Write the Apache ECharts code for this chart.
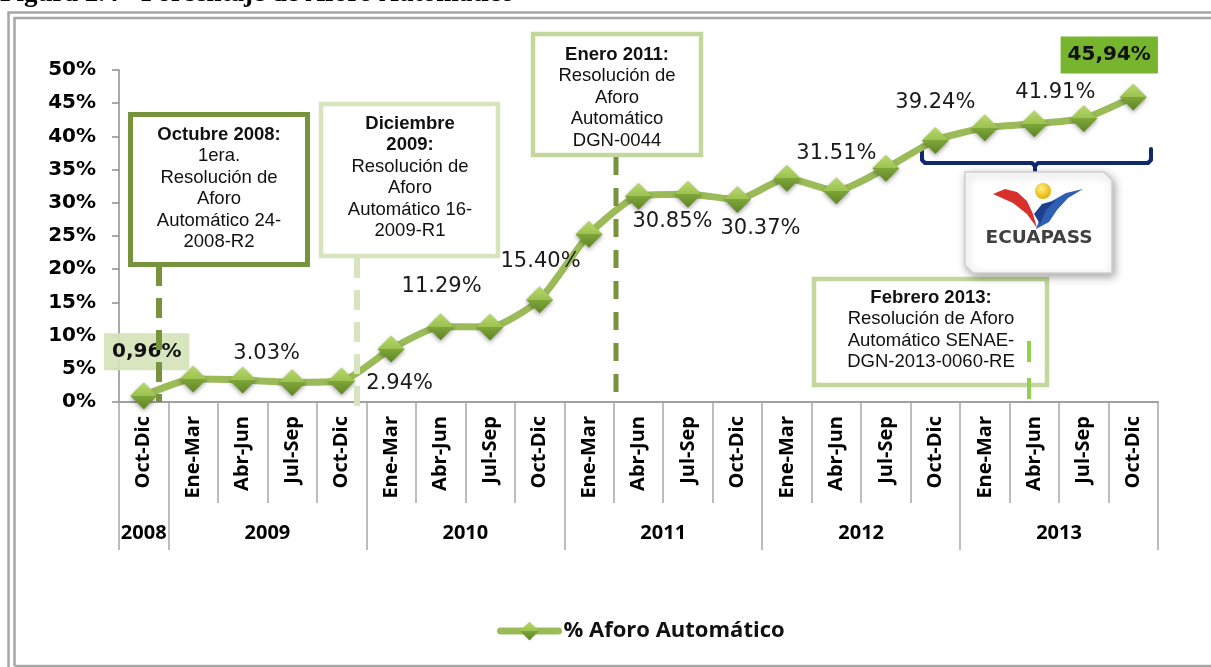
<!DOCTYPE html>
<html lang="es">
<head>
	<meta charset="UTF-8">
	<title>Porcentaje de Aforo Automático</title>
	<style>
		html, body { margin: 0; padding: 0; background: #fff; }
		#main { width: 1211px; height: 667px; }
	</style>
</head>
<body>
	<div id="main"></div>

	<script src="https://cdn.jsdelivr.net/npm/echarts@6/dist/echarts.min.js"></script>
	<script>
		// datos
		var periodos = ['Oct-Dic',
			'Ene-Mar', 'Abr-Jun', 'Jul-Sep', 'Oct-Dic',
			'Ene-Mar', 'Abr-Jun', 'Jul-Sep', 'Oct-Dic',
			'Ene-Mar', 'Abr-Jun', 'Jul-Sep', 'Oct-Dic',
			'Ene-Mar', 'Abr-Jun', 'Jul-Sep', 'Oct-Dic',
			'Ene-Mar', 'Abr-Jun', 'Jul-Sep', 'Oct-Dic'];
		var anios = ['2008', '2009', '2010', '2011', '2012', '2013'];
		var trimestresPorAnio = [1, 4, 4, 4, 4, 4];
		var aforo = [0.96,
			3.45, 3.30, 2.95, 3.15,
			8.0, 11.35, 11.29, 15.40,
			25.25, 31.0, 31.3, 30.5,
			33.7, 31.8, 35.2, 39.4,
			41.3, 41.9, 42.7, 45.94];
		var etiquetas = ['0,96%', '', '3.03%', '', '2.94%', '', '11.29%', '', '15.40%', '',
			'30.85%', '', '30.37%', '', '31.51%', '', '39.24%', '', '41.91%', '', '45,94%'];
		var yTicks = [0, 50, 5];

		// desplazamiento de cada etiqueta respecto a su punto (estilo)
		var offsetEtiq = {
			0: [3, -44], 2: [24, -27], 4: [58, 2], 6: [1, -40], 8: [1, -38],
			10: [34, 25], 12: [23, 29], 14: [0, -37], 16: [0, -38], 18: [21, -31], 20: [-24, -42]
		};

		// eje de años: 2 ranuras por trimestre para centrar el año en su grupo
		var ranuras = [];
		for (var i = 0; i <= periodos.length * 2; i++) ranuras.push('');
		var bordes = {};
		var ini = 0;
		for (var a = 0; a < anios.length; a++) {
			var fin = ini + trimestresPorAnio[a];
			bordes[ini * 2] = true;
			bordes[fin * 2] = true;
			ranuras[ini + fin] = anios[a];
			ini = fin;
		}

		var datos = [];
		for (var i = 0; i < aforo.length; i++) {
			var lab = { show: false };
			if (etiquetas[i] !== '') {
				lab = {
					show: true,
					position: 'inside',
					offset: offsetEtiq[i],
					formatter: etiquetas[i],
					fontFamily: 'DejaVu Sans',
					fontSize: 21,
					color: '#1a1a1a'
				};
				if (i === 0) {
					lab.fontWeight = 'bold';
					lab.fontSize = 20;
					lab.backgroundColor = 'rgba(213,227,184,0.92)';
					lab.padding = [9, 8, 8, 8];
					lab.color = '#111';
				}
				if (i === aforo.length - 1) {
					lab.fontWeight = 'bold';
					lab.fontSize = 20;
					lab.backgroundColor = '#77b52f';
					lab.padding = [9, 7, 8, 7];
					lab.color = '#111';
				}
			}
			datos.push({ value: aforo[i], label: lab });
		}

		var verde = '#77933c';
		var verdeClaro = '#c3d69b';
		var verdeMuyClaro = '#d7e4bd';

		function caja(x, y, w, h, color, lw) {
			return {
				type: 'rect', z: 5,
				shape: { x: x, y: y, width: w, height: h },
				style: { fill: '#fff', stroke: color, lineWidth: lw }
			};
		}
		function texto(cx, top, txt) {
			return {
				type: 'text', z: 6, x: cx, y: top,
				style: {
					text: txt, align: 'center', verticalAlign: 'top',
					fontFamily: 'Liberation Sans', fontSize: 18.5, lineHeight: 21.5, fill: '#111',
					rich: { b: { fontWeight: 'bold', fontFamily: 'Liberation Sans', fontSize: 18.5, lineHeight: 21.5 } }
				}
			};
		}
		function guion(x, y1, y2, color, lw, dash) {
			return {
				type: 'line', z: 100,
				shape: { x1: x, y1: y1, x2: x, y2: y2 },
				style: { stroke: color, lineWidth: lw, lineDash: dash }
			};
		}

		var graficos = [
			// titulo cortado arriba
			{ type: 'text', x: 0, y: 8, style: { text: 'Figura 2.4 - Porcentaje de Aforo Automático', fontFamily: 'Liberation Serif', fontWeight: 'bold', fontSize: 27, verticalAlign: 'bottom', fill: '#000' } },
			// marco doble
			{ type: 'polyline', shape: { points: [[8.5, 670], [8.5, 12.5], [1215, 12.5]] }, style: { stroke: '#a6a6a6', lineWidth: 2.5, fill: null } },
			{ type: 'polyline', shape: { points: [[14.5, 666], [14.5, 18], [1215, 18]] }, style: { stroke: '#a6a6a6', lineWidth: 2.5, fill: null } },
			{ type: 'line', shape: { x1: 14.5, y1: 666, x2: 1215, y2: 666 }, style: { stroke: '#a6a6a6', lineWidth: 2.5 } },

			caja(130.5, 114.5, 177, 150, verde, 5),
			texto(219, 124, '{b|Octubre 2008:}\n1era.\nResolución de\nAforo\nAutomático 24-\n2008-R2'),
			caja(321, 104, 177, 152, verdeMuyClaro, 4.5),
			texto(410, 113, '{b|Diciembre}\n{b|2009:}\nResolución de\nAforo\nAutomático 16-\n2009-R1'),
			caja(533, 34, 168, 121, verdeClaro, 4.5),
			texto(617, 44, '{b|Enero 2011:}\nResolución de\nAforo\nAutomático\nDGN-0044'),
			caja(814, 279, 233, 106, verdeClaro, 4.5),
			texto(931, 287, '{b|Febrero 2013:}\nResolución de Aforo\nAutomático SENAE-\nDGN-2013-0060-RE'),

			guion(159, 266, 402, verde, 6, [20, 12]),
			guion(357, 258, 408, verdeMuyClaro, 6, [20, 12]),
			guion(616, 157, 402, verde, 5, [18, 13]),
			guion(1029, 341, 401, '#92d050', 4, [21, 16]),

			// llave azul
			{
				type: 'polyline', z: 8,
				shape: { points: [[922, 149], [922, 160], [925, 163], [1032, 163], [1035, 166], [1035, 177]] },
				style: { stroke: '#10296b', lineWidth: 4, fill: null, lineCap: 'round', lineJoin: 'round' }
			},
			{
				type: 'polyline', z: 8,
				shape: { points: [[1035, 166], [1038, 163], [1148, 163], [1151, 160], [1151, 149]] },
				style: { stroke: '#10296b', lineWidth: 4, fill: null, lineCap: 'round', lineJoin: 'round' }
			},
			// logo ECUAPASS
			{
				type: 'polygon', z: 8,
				shape: { points: [[965, 172], [1104, 172], [1112, 180], [1112, 273], [973, 273], [965, 265]] },
				style: { fill: '#fff', stroke: '#cfcfcf', lineWidth: 1.5, shadowBlur: 8, shadowColor: 'rgba(0,0,0,0.35)', shadowOffsetX: 2, shadowOffsetY: 3 }
			},
			{
				type: 'polygon', z: 9,
				shape: { points: [[993, 194], [1005, 189], [1017, 192], [1027, 201], [1033, 214], [1037, 228], [1027, 214], [1013, 203]] },
				style: { fill: '#d8312b' }
			},
			{
				type: 'polygon', z: 9,
				shape: { points: [[1036, 229], [1042, 213], [1052, 201], [1066, 193], [1083, 189], [1068, 198], [1057, 210], [1049, 222]] },
				style: { fill: '#2f5fb3' }
			},
			{
				type: 'polygon', z: 9,
				shape: { points: [[1034, 214], [1042, 204], [1056, 200], [1046, 210], [1040, 224]] },
				style: { fill: '#1f3f8f' }
			},
			{
				type: 'circle', z: 10,
				shape: { cx: 1043, cy: 191, r: 8 },
				style: { fill: { type: 'radial', x: 0.4, y: 0.35, r: 0.7, colorStops: [{ offset: 0, color: '#fff27a' }, { offset: 1, color: '#e6a800' }] } }
			},
			{
				type: 'text', z: 10, x: 1039, y: 238,
				style: { text: 'ECUAPASS', align: 'center', verticalAlign: 'middle', fontFamily: 'DejaVu Sans', fontWeight: 'bold', fontSize: 18.5, fill: '#404040' }
			}
		];

		var myChart = echarts.init(document.getElementById('main'));
		var option = {
			animation: false,
			backgroundColor: '#fff',
			grid: { left: 119, right: 53, top: 70, bottom: 265, containLabel: false },
			legend: {
				left: 492, top: 615,
				itemWidth: 58, itemHeight: 24,
				lineStyle: { width: 7, color: '#9bbb59', cap: 'round' },
				textStyle: { fontFamily: 'Open Sans', fontWeight: 'bold', fontSize: 22, color: '#111' },
				data: ['% Aforo Automático']
			},
			xAxis: [{
				type: 'category',
				data: periodos,
				boundaryGap: true,
				axisLine: { lineStyle: { color: '#a0a0a0', width: 2 } },
				axisTick: { show: true, interval: 0, length: 101, lineStyle: { color: '#a6a6a6', width: 1.5 } },
				axisLabel: { interval: 0, rotate: 90, margin: 14, fontFamily: 'Open Sans', fontWeight: 'bold', fontSize: 20, color: '#000' },
				splitLine: { show: false }
			}, {
				type: 'category',
				data: ranuras,
				boundaryGap: false,
				position: 'bottom',
				offset: 0,
				axisLine: { show: false },
				axisTick: { show: true, length: 148, interval: function (idx) { return bordes[idx] === true; }, lineStyle: { color: '#a6a6a6', width: 1.5 } },
				axisLabel: { interval: function (idx, val) { return val !== ''; }, margin: 121, fontFamily: 'Open Sans', fontWeight: 'bold', fontSize: 20, color: '#000' },
				splitLine: { show: false }
			}],
			yAxis: {
				type: 'value',
				min: yTicks[0], max: yTicks[1], interval: yTicks[2],
				axisLine: { show: true, lineStyle: { color: '#8c8c8c', width: 1.5 } },
				axisTick: { show: true, length: 7, lineStyle: { color: '#8c8c8c', width: 1.5 } },
				axisLabel: { formatter: '{value}%', margin: 23, fontFamily: 'DejaVu Sans', fontWeight: 'bold', fontSize: 20, color: '#000' },
				splitLine: { show: false }
			},
			series: [{
				name: '% Aforo Automático',
				type: 'line',
				xAxisIndex: 0,
				data: datos,
				smooth: 0.2,
				symbol: 'diamond',
				symbolSize: 27,
				z: 20,
				lineStyle: { color: '#9bbb59', width: 7 },
				itemStyle: {
					color: {
						type: 'linear', x: 0, y: 0, x2: 0, y2: 1,
						colorStops: [
							{ offset: 0, color: '#b9d870' },
							{ offset: 0.5, color: '#9cc24e' },
							{ offset: 0.5, color: '#7fa63a' },
							{ offset: 1, color: '#5f8523' }
						]
					},
					shadowBlur: 4, shadowColor: 'rgba(0,0,0,0.35)', shadowOffsetY: 2
				},
				emphasis: { disabled: true }
			}],
			graphic: graficos
		};
		myChart.setOption(option);
	</script>
</body>
</html>
